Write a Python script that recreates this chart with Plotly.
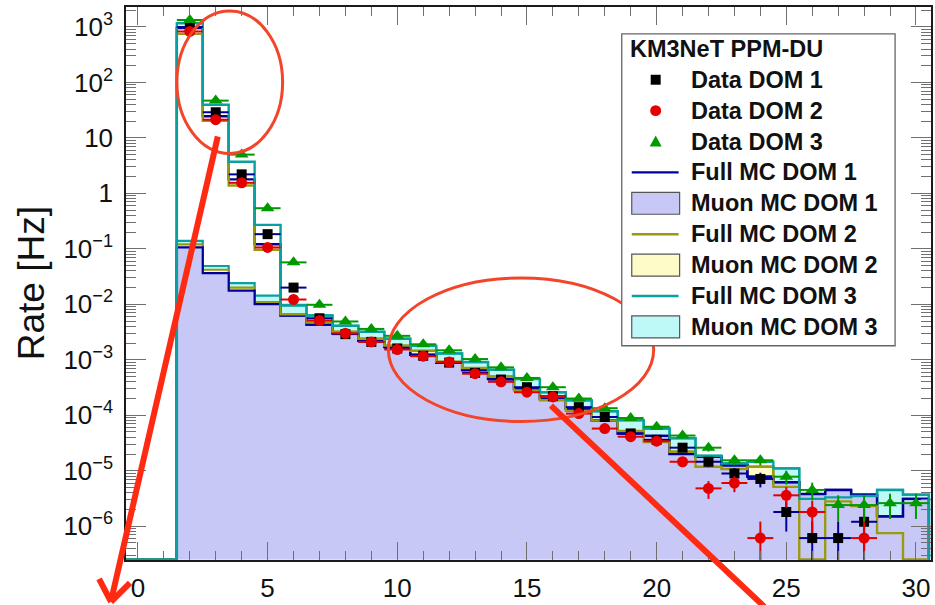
import numpy as np
import plotly.graph_objects as go

# ---------------- data (bins of hit multiplicity 0..30) ----------------
mult = list(range(0, 31))

full_mc_dom1 = [0, 0, 960, 24.5, 1.79, 0.121, 0.0063, 0.0043, 0.0030, 0.0022, 0.0017,
                0.00123, 0.00088, 0.00065, 0.00045, 0.00030, 0.00020, 0.000132, 0.000080,
                0.0000468, 0.0000425, 0.000020, 0.0000178, 0.0000125, 0.0000078, 0.0000062,
                0.0000038, 0.0000045, 0.0000037, 0.0000015, 0.0000031]
full_mc_dom2 = [0, 0, 750, 20.4, 1.39, 0.096, 0.0066, 0.0047, 0.0032, 0.0024, 0.0018,
                0.00145, 0.00092, 0.00071, 0.00050, 0.00028, 0.000186, 0.00012, 0.000080,
                0.000052, 0.000033, 0.000022, 0.0000118, 0.0000107, 0.0000118, 0.0000051,
                0, 0.0000028, 0.0000023, 0.00000075, 0]
full_mc_dom3 = [0, 0, 1165, 39.7, 3.72, 0.27, 0.0097, 0.0063, 0.0041, 0.0032, 0.0024,
                0.00178, 0.0013, 0.00091, 0.00066, 0.00045, 0.00026, 0.000185, 0.000118,
                0.0000813, 0.0000575, 0.0000385, 0.0000186, 0.0000135, 0.0000145, 0.000011,
                0.0000031, 0.0000033, 0.0000035, 0.0000045, 0.0000037]

muon_mc_dom1 = [0, 0, 0.106, 0.0365, 0.0176, 0.0101, 0.0063, 0.0043, 0.0030, 0.0022, 0.0017,
                0.00123, 0.00088, 0.00065, 0.00045, 0.00030, 0.00020, 0.000132, 0.000080,
                0.0000468, 0.0000425, 0.000020, 0.0000178, 0.0000125, 0.0000078, 0.0000062,
                0.0000038, 0.0000045, 0.0000037, 0.0000015, 0.0000031]
muon_mc_dom2 = [0, 0, 0.12, 0.042, 0.020, 0.0109, 0.0066, 0.0047, 0.0032, 0.0024, 0.0018,
                0.00145, 0.00092, 0.00071, 0.00050, 0.00028, 0.000186, 0.00012, 0.000080,
                0.000052, 0.000033, 0.000022, 0.0000118, 0.0000107, 0.0000118, 0.0000051,
                0, 0.0000028, 0.0000023, 0.00000075, 0]
muon_mc_dom3 = [0, 0, 0.139, 0.049, 0.0241, 0.0143, 0.0095, 0.0063, 0.0041, 0.0032, 0.0024,
                0.00178, 0.0013, 0.00091, 0.00066, 0.00045, 0.00026, 0.000185, 0.000118,
                0.0000813, 0.0000575, 0.0000385, 0.0000186, 0.0000135, 0.0000115, 0.000011,
                0.0000031, 0.0000033, 0.0000035, 0.0000045, 0.0000037]

data_dom1 = [None, None, 1000, 29, 2.2, 0.184, 0.020, 0.0056, 0.0029, 0.0021, 0.0016,
             0.00118, 0.00089, 0.00058, 0.00044, 0.00032, 0.00022, 0.00014, 0.000093,
             0.000047, 0.000036, 0.000026, 0.0000145, 0.0000089, 0.0000071, 0.0000018,
             0.00000061, 0.00000061, 0.0000012, None, None]
data_dom2 = [None, None, 830, 21.3, 1.55, 0.106, 0.0122, 0.0051, 0.0030, 0.0021, 0.00153,
             0.00116, 0.00091, 0.00056, 0.00040, 0.00026, 0.000214, 0.000107, 0.0000575,
             0.000041, 0.000034, 0.0000145, 0.0000048, 0.0000060, 0.00000061, 0.0000036,
             0.0000018, None, 0.00000061, None, None]
data_dom3 = [None, None, 1335, 47, 5.0, 0.54, 0.057, 0.0098, 0.0049, 0.0036, 0.0027,
             0.0019, 0.00148, 0.00103, 0.00073, 0.00047, 0.00032, 0.00020, 0.000134,
             0.000089, 0.000062, 0.000043, 0.000026, 0.0000154, 0.0000154, 0.0000078,
             0.0000045, 0.0000024, 0.0000024, 0.0000026, 0.0000026]

err_dom1 = [0]*14 + [1.6e-5, 1.4e-5, 1.15e-5, 9.2e-6, 7.5e-6, 5.3e-6, 4.6e-6, 3.9e-6,
                     2.9e-6, 2.3e-6, 2.1e-6, 1.0e-6, 6.0e-7, 6.0e-7, 8.5e-7, 0, 0]
err_dom2 = [0]*14 + [1.55e-5, 1.25e-5, 1.1e-5, 8e-6, 5.9e-6, 5e-6, 4.5e-6, 2.9e-6,
                     1.7e-6, 1.9e-6, 6.0e-7, 1.45e-6, 1.04e-6, 0, 6.0e-7, 0, 0]
err_dom3 = [0]*14 + [2.1e-5, 1.7e-5, 1.4e-5, 1.1e-5, 9e-6, 7.3e-6, 6.1e-6, 5.1e-6,
                     3.9e-6, 3.0e-6, 3.0e-6, 2.2e-6, 1.6e-6, 1.2e-6, 1.2e-6, 1.25e-6, 1.25e-6]

y_tickvals = [1e-6, 1e-5, 1e-4, 1e-3, 1e-2, 1e-1, 1, 10, 100, 1000]
y_ticktext = ["10<sup>\u22126</sup>", "10<sup>\u22125</sup>", "10<sup>\u22124</sup>",
              "10<sup>\u22123</sup>", "10<sup>\u22122</sup>", "10<sup>\u22121</sup>",
              "1", "10", "10<sup>2</sup>", "10<sup>3</sup>"]
x_tickvals = [0, 5, 10, 15, 20, 25, 30]

legend_title = "KM3NeT PPM-DU"
legend_labels = ["Data DOM 1", "Data DOM 2", "Data DOM 3", "Full MC DOM 1", "Muon MC DOM 1",
                 "Full MC DOM 2", "Muon MC DOM 2", "Full MC DOM 3", "Muon MC DOM 3"]

# ---------------- style ----------------
NAVY, OLIVE, TEAL = "#000099", "#9a9a10", "#0aa0a0"
LAV, YEL, CYN = "#c8c8f6", "#fefbc9", "#bff9f7"
RED, GREEN = "#e40000", "#009a00"
FONT = "Liberation Sans"

W_PX, H_PX = 935, 605
L, R, T, B = 126, 933, 7, 562
YMIN, YMAX = -6.61, 3.36
XMIN, XMAX = -0.46, 30.58


def px(x):
    return (x - L) / (R - L)


def py(y):
    return (B - y) / (B - T)


floor = 10 ** (YMIN + 0.008)
edges = np.arange(len(mult) + 1) - 0.5


def step_xy(vals):
    v = np.array(vals, dtype=float)
    v = np.where(v > 0, v, floor)
    xs = np.repeat(edges, 2)[1:-1]
    ys = np.repeat(v, 2)
    xs = np.concatenate([[edges[0]], xs, [edges[-1]]])
    ys = np.concatenate([[floor], ys, [floor]])
    return xs, ys


fig = go.Figure()

for vals, fc, lc in [(muon_mc_dom3, CYN, TEAL), (muon_mc_dom2, YEL, OLIVE), (muon_mc_dom1, LAV, NAVY)]:
    xs, ys = step_xy(vals)
    fig.add_trace(go.Scatter(x=xs, y=ys, mode="lines", fill="toself", fillcolor=fc,
                             line=dict(color=lc, width=2.2), hoverinfo="skip", showlegend=False))

for vals, lc in [(full_mc_dom1, NAVY), (full_mc_dom2, OLIVE), (full_mc_dom3, TEAL)]:
    xs, ys = step_xy(vals)
    fig.add_trace(go.Scatter(x=xs, y=ys, mode="lines", line=dict(color=lc, width=2.4),
                             hoverinfo="skip", showlegend=False))

for vals, err, sym, mc, ec, size in [(data_dom1, err_dom1, "square", "black", NAVY, 10),
                                      (data_dom2, err_dom2, "circle", RED, RED, 11),
                                      (data_dom3, err_dom3, "triangle-up", GREEN, GREEN, 12)]:
    fig.add_trace(go.Scatter(
        x=mult, y=vals, mode="markers",
        marker=dict(symbol=sym, size=size, color=mc, line=dict(width=0)),
        error_y=dict(type="data", array=err, visible=True, color=ec, thickness=2, width=0),
        error_x=dict(type="constant", value=0.5, visible=True, color=ec, thickness=2, width=0),
        showlegend=False, hoverinfo="skip"))

shapes = []
annotations = []

# red annotation marks
shapes.append(dict(type="circle", xref="paper", yref="paper", x0=px(177), x1=px(283),
                   y0=py(154), y1=py(11), line=dict(color="#f2452a", width=3), layer="above"))
shapes.append(dict(type="circle", xref="paper", yref="paper", x0=px(389), x1=px(655),
                   y0=py(423), y1=py(279), line=dict(color="#f2452a", width=3), layer="above"))
for (x0, y0, x1, y1) in [(218, 137, 111, 603), (111, 604, 99, 581), (111, 604, 130, 585),
                         (552, 407, 766, 609)]:
    shapes.append(dict(type="line", xref="paper", yref="paper", x0=px(x0), y0=py(y0),
                       x1=px(x1), y1=py(y1), line=dict(color="#ff2a12", width=6), layer="above"))

# legend box
shapes.append(dict(type="rect", xref="paper", yref="paper", x0=px(623), x1=px(897),
                   y0=py(347), y1=py(34), fillcolor="white", line=dict(color="#666666", width=1.3),
                   layer="above"))
annotations.append(dict(xref="paper", yref="paper", x=px(629), y=py(49.5), xanchor="left",
                        yanchor="middle", showarrow=False, text="<b>" + legend_title + "</b>",
                        font=dict(family=FONT, size=23.5, color="#111111")))
row_y = [80 + 31 * i for i in range(len(legend_labels))]
for i, (lab, yc) in enumerate(zip(legend_labels, row_y)):
    annotations.append(dict(xref="paper", yref="paper", x=px(690), y=py(yc), xanchor="left",
                            yanchor="middle", showarrow=False, text="<b>" + lab + "</b>",
                            font=dict(family=FONT, size=23.5, color="#111111")))
    if i == 0:
        shapes.append(dict(type="rect", xref="paper", yref="paper", x0=px(652), x1=px(662),
                           y0=py(yc + 5), y1=py(yc - 5), fillcolor="black", line=dict(width=0),
                           layer="above"))
    elif i == 1:
        shapes.append(dict(type="circle", xref="paper", yref="paper", x0=px(651.5), x1=px(662.5),
                           y0=py(yc + 5.5), y1=py(yc - 5.5), fillcolor=RED, line=dict(width=0),
                           layer="above"))
    elif i == 2:
        path = "M {a},{b} L {c},{d} L {e},{f} Z".format(
            a=px(657), b=py(yc - 6), c=px(651), d=py(yc + 5), e=px(663), f=py(yc + 5))
        shapes.append(dict(type="path", xref="paper", yref="paper", path=path, fillcolor=GREEN,
                           line=dict(width=0), layer="above"))
    elif i in (3, 5, 7):
        col = {3: NAVY, 5: OLIVE, 7: TEAL}[i]
        shapes.append(dict(type="line", xref="paper", yref="paper", x0=px(633), x1=px(680),
                           y0=py(yc), y1=py(yc), line=dict(color=col, width=2.4), layer="above"))
    else:
        col = {4: LAV, 6: YEL, 8: CYN}[i]
        shapes.append(dict(type="rect", xref="paper", yref="paper", x0=px(633), x1=px(681),
                           y0=py(yc + 11), y1=py(yc - 11), fillcolor=col,
                           line=dict(color="#555555", width=1.2), layer="above"))

annotations.append(dict(xref="paper", yref="paper", x=px(31), y=py(284), xanchor="center",
                        yanchor="middle", textangle=-90, showarrow=False, text="Rate [Hz]",
                        font=dict(family=FONT, size=37, color="#111111")))

# minor ticks: 2..9 x 10^n on y, every unit on x
minor_y = [k * 10.0 ** n for n in range(-7, 4) for k in range(2, 10)]
minor_x = list(range(0, 31))

axis_common = dict(showline=True, linecolor="#1a1a1a", linewidth=1.5, mirror="allticks",
                   ticks="inside", tickcolor="#707070", tickwidth=1.3, showgrid=False,
                   zeroline=False, tickfont=dict(family=FONT, size=26, color="#111111"))

fig.update_layout(
    width=W_PX, height=H_PX,
    margin=dict(l=L, r=W_PX - R, t=T, b=H_PX - B, pad=0),
    paper_bgcolor="white", plot_bgcolor="white",
    shapes=shapes, annotations=annotations, showlegend=False,
    xaxis=dict(range=[XMIN, XMAX], tickmode="array", tickvals=x_tickvals,
               ticktext=[str(v) for v in x_tickvals], ticklen=18,
               minor=dict(ticks="inside", tickmode="array", tickvals=minor_x, ticklen=9,
                          tickcolor="#707070", tickwidth=1.3),
               ticklabelstandoff=4, **axis_common),
    yaxis=dict(type="log", range=[YMIN, YMAX], tickmode="array", tickvals=y_tickvals,
               ticktext=y_ticktext, ticklen=20,
               minor=dict(ticks="inside", tickmode="array", tickvals=minor_y, ticklen=10,
                          tickcolor="#707070", tickwidth=1.3),
               ticklabelstandoff=6, **axis_common),
)

fig.write_html("out.html")
